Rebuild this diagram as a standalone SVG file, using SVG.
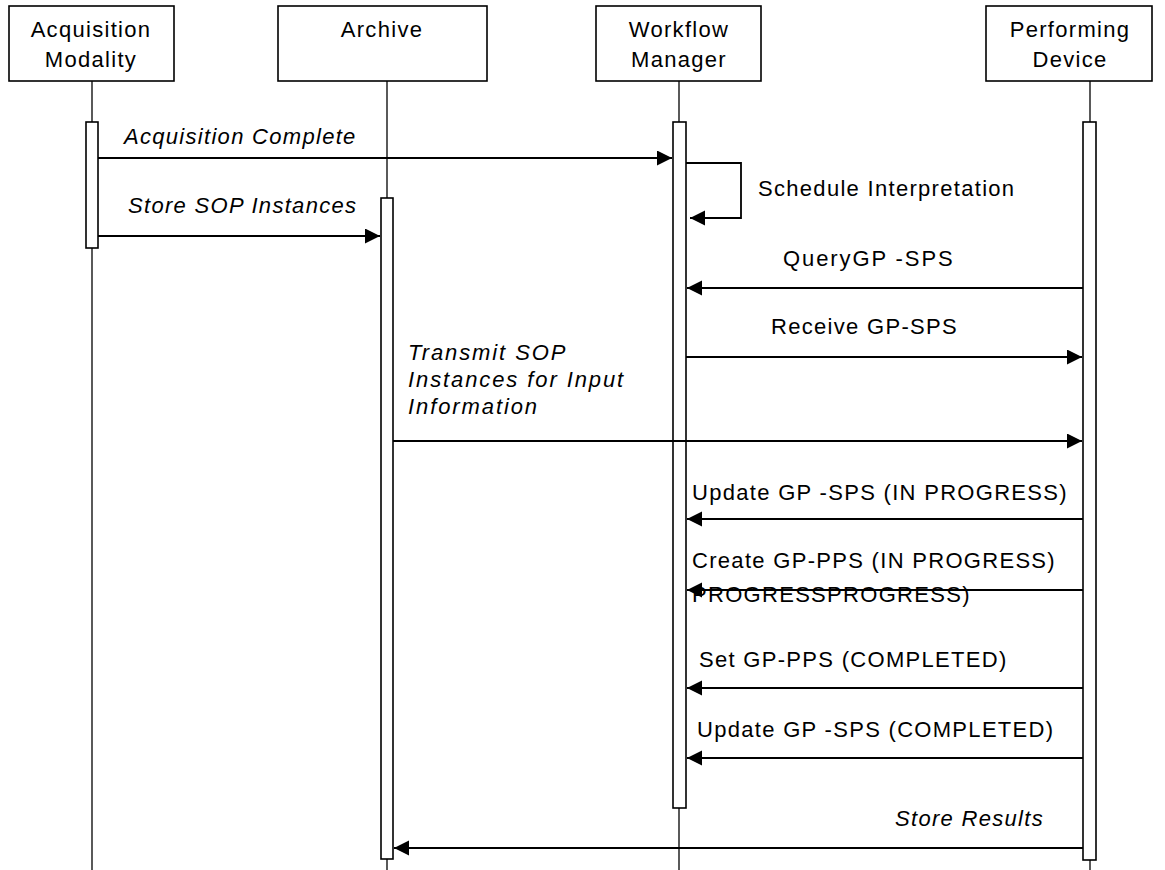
<svg xmlns="http://www.w3.org/2000/svg" width="1165" height="870" viewBox="0 0 1165 870">
<style>
  text { font-family: "Liberation Sans", Arial, sans-serif; font-size: 22px; fill: #000; letter-spacing: 1.3px; }
  .it { font-style: italic; }
  .wide { letter-spacing: 1.9px; }
  .mid { text-anchor: middle; }
  .box { fill: #fff; stroke: #000; stroke-width: 1.6; }
  .life { stroke: #000; stroke-width: 1.3; fill: none; }
  .act { fill: #fff; stroke: #000; stroke-width: 1.6; }
  .msg { stroke: #000; stroke-width: 1.8; fill: none; marker-end: url(#ah); }
</style>
<defs>
  <marker id="ah" markerUnits="userSpaceOnUse" markerWidth="16" markerHeight="16" refX="15" refY="7.5" orient="auto">
    <path d="M0,0 L15,7.5 L0,15 z" fill="#000"/>
  </marker>
</defs>
<rect width="1165" height="870" fill="#fff"/>

<g id="lifelines">
  <line class="life" x1="92" y1="81" x2="92" y2="870"/>
  <line class="life" x1="387" y1="81" x2="387" y2="870"/>
  <line class="life" x1="679" y1="81" x2="679" y2="870"/>
  <line class="life" x1="1090" y1="81" x2="1090" y2="870"/>
</g>

<g id="node-acquisition-modality">
  <rect class="box" x="9" y="6" width="165" height="75"/>
  <text class="mid" x="91" y="37">Acquisition</text>
  <text class="mid" x="91" y="67">Modality</text>
  <rect class="act" x="86" y="122" width="12" height="126"/>
</g>

<g id="node-archive">
  <rect class="box" x="278" y="6" width="209" height="75"/>
  <text class="mid" x="382" y="37">Archive</text>
  <rect class="act" x="381" y="198" width="12" height="661"/>
</g>

<g id="node-workflow-manager">
  <rect class="box" x="596" y="6" width="165" height="75"/>
  <text class="mid" x="679" y="37">Workflow</text>
  <text class="mid" x="679" y="67">Manager</text>
  <rect class="act" x="673" y="122" width="13" height="686"/>
</g>

<g id="node-performing-device">
  <rect class="box" x="986" y="6" width="166" height="75"/>
  <text class="mid" x="1070" y="37">Performing</text>
  <text class="mid" x="1070" y="67">Device</text>
  <rect class="act" x="1083" y="122" width="13" height="738"/>
</g>

<g id="connectors">
  <line class="msg" x1="98" y1="158" x2="672" y2="158"/>
  <line class="msg" x1="98" y1="236" x2="380" y2="236"/>
  <polyline class="msg" points="686,163 741,163 741,218 690,218"/>
  <line class="msg" x1="1083" y1="288" x2="687" y2="288"/>
  <line class="msg" x1="686" y1="357" x2="1082" y2="357"/>
  <line class="msg" x1="393" y1="441" x2="1082" y2="441"/>
  <line class="msg" x1="1083" y1="519" x2="687" y2="519"/>
  <line class="msg" x1="1083" y1="590" x2="687" y2="590"/>
  <line class="msg" x1="1083" y1="688" x2="687" y2="688"/>
  <line class="msg" x1="1083" y1="758" x2="687" y2="758"/>
  <line class="msg" x1="1083" y1="848" x2="394" y2="848"/>
</g>

<g id="labels">
  <text class="it" x="124" y="144">Acquisition Complete</text>
  <text class="it" x="128" y="213">Store SOP Instances</text>
  <text x="758" y="196">Schedule Interpretation</text>
  <text class="wide" x="783" y="266">QueryGP -SPS</text>
  <text x="771" y="334">Receive GP-SPS</text>
  <text class="it wide" x="408" y="360">Transmit SOP</text>
  <text class="it wide" x="408" y="387">Instances for Input</text>
  <text class="it wide" x="408" y="414">Information</text>
  <text x="692" y="500">Update GP -SPS (IN PROGRESS)</text>
  <text x="692" y="568">Create GP-PPS  (IN PROGRESS)</text>
  <text x="692" y="602">PROGRESSPROGRESS)</text>
  <text x="699" y="667">Set GP-PPS  (COMPLETED)</text>
  <text x="697" y="737">Update GP -SPS (COMPLETED)</text>
  <text class="it" x="1044" y="826" text-anchor="end">Store Results</text>
</g>
</svg>
